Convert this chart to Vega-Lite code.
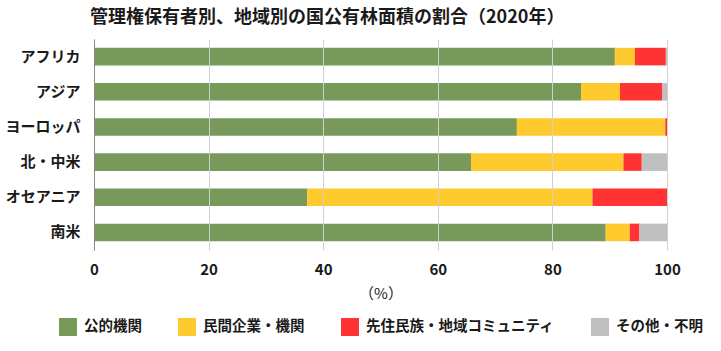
{
  "$schema": "https://vega.github.io/schema/vega-lite/v6.json",
  "width": 573,
  "height": 211,
  "autosize": {"type": "none"},
  "padding": {"left": 94, "top": 39, "right": 54, "bottom": 101},
  "background": "white",
  "title": {
    "text": "管理権保有者別、地域別の国公有林面積の割合（2020年）",
    "anchor": "start",
    "frame": "group",
    "dx": -4,
    "offset": 12,
    "fontSize": 18,
    "fontWeight": "bold",
    "font": "Noto Sans CJK JP",
    "color": "#1a1a1a"
  },
  "data": {
    "values": [
      {"region": "アフリカ", "type": "公的機関", "order": 1, "value": 90.9},
      {"region": "アフリカ", "type": "民間企業・機関", "order": 2, "value": 3.5},
      {"region": "アフリカ", "type": "先住民族・地域コミュニティ", "order": 3, "value": 5.4},
      {"region": "アフリカ", "type": "その他・不明", "order": 4, "value": 0.2},
      {"region": "アジア", "type": "公的機関", "order": 1, "value": 85.0},
      {"region": "アジア", "type": "民間企業・機関", "order": 2, "value": 6.8},
      {"region": "アジア", "type": "先住民族・地域コミュニティ", "order": 3, "value": 7.4},
      {"region": "アジア", "type": "その他・不明", "order": 4, "value": 0.8},
      {"region": "ヨーロッパ", "type": "公的機関", "order": 1, "value": 73.8},
      {"region": "ヨーロッパ", "type": "民間企業・機関", "order": 2, "value": 25.9},
      {"region": "ヨーロッパ", "type": "先住民族・地域コミュニティ", "order": 3, "value": 0.3},
      {"region": "ヨーロッパ", "type": "その他・不明", "order": 4, "value": 0.0},
      {"region": "北・中米", "type": "公的機関", "order": 1, "value": 65.8},
      {"region": "北・中米", "type": "民間企業・機関", "order": 2, "value": 26.6},
      {"region": "北・中米", "type": "先住民族・地域コミュニティ", "order": 3, "value": 3.2},
      {"region": "北・中米", "type": "その他・不明", "order": 4, "value": 4.4},
      {"region": "オセアニア", "type": "公的機関", "order": 1, "value": 37.2},
      {"region": "オセアニア", "type": "民間企業・機関", "order": 2, "value": 49.8},
      {"region": "オセアニア", "type": "先住民族・地域コミュニティ", "order": 3, "value": 13.0},
      {"region": "オセアニア", "type": "その他・不明", "order": 4, "value": 0.0},
      {"region": "南米", "type": "公的機関", "order": 1, "value": 89.3},
      {"region": "南米", "type": "民間企業・機関", "order": 2, "value": 4.2},
      {"region": "南米", "type": "先住民族・地域コミュニティ", "order": 3, "value": 1.7},
      {"region": "南米", "type": "その他・不明", "order": 4, "value": 4.8}
    ]
  },
  "mark": {"type": "bar"},
  "encoding": {
    "y": {
      "field": "region",
      "type": "nominal",
      "sort": ["アフリカ", "アジア", "ヨーロッパ", "北・中米", "オセアニア", "南米"],
      "scale": {"paddingInner": 0.5, "paddingOuter": 0.25},
      "axis": {
        "title": null,
        "ticks": false,
        "domain": true,
        "domainColor": "#888888",
        "labelFont": "Noto Sans CJK JP",
        "labelFontSize": 15,
        "labelFontWeight": "bold",
        "labelColor": "#1a1a1a",
        "labelPadding": 14,
        "zindex": 1
      }
    },
    "x": {
      "field": "value",
      "type": "quantitative",
      "stack": "zero",
      "scale": {"domain": [0, 100], "nice": false},
      "axis": {
        "title": "（%）",
        "titleFont": "Noto Sans CJK JP",
        "titleFontSize": 15,
        "titleFontWeight": "normal",
        "titleColor": "#1a1a1a",
        "titlePadding": 9,
        "values": [0, 20, 40, 60, 80, 100],
        "grid": true,
        "gridColor": "#D0D0D0",
        "domain": false,
        "ticks": false,
        "labelFlush": false,
        "labelFont": "Noto Sans CJK JP",
        "labelFontSize": 15,
        "labelFontWeight": "bold",
        "labelColor": "#1a1a1a",
        "labelPadding": 12,
        "zindex": 1
      }
    },
    "color": {
      "field": "type",
      "type": "nominal",
      "scale": {
        "domain": ["公的機関", "民間企業・機関", "先住民族・地域コミュニティ", "その他・不明"],
        "range": ["#779A5B", "#FFCA2E", "#FF3333", "#BFBFBF"]
      },
      "legend": {
        "title": null,
        "orient": "none",
        "legendX": -35,
        "legendY": 279,
        "direction": "horizontal",
        "symbolType": "square",
        "symbolSize": 324,
        "symbolStrokeWidth": 0,
        "labelFont": "Noto Sans CJK JP",
        "labelFontSize": 14.5,
        "labelFontWeight": "bold",
        "labelColor": "#1a1a1a",
        "labelOffset": 7,
        "columnPadding": 36,
        "labelLimit": 400
      }
    },
    "order": {"field": "order", "type": "quantitative"}
  },
  "config": {
    "view": {"stroke": null}
  }
}
